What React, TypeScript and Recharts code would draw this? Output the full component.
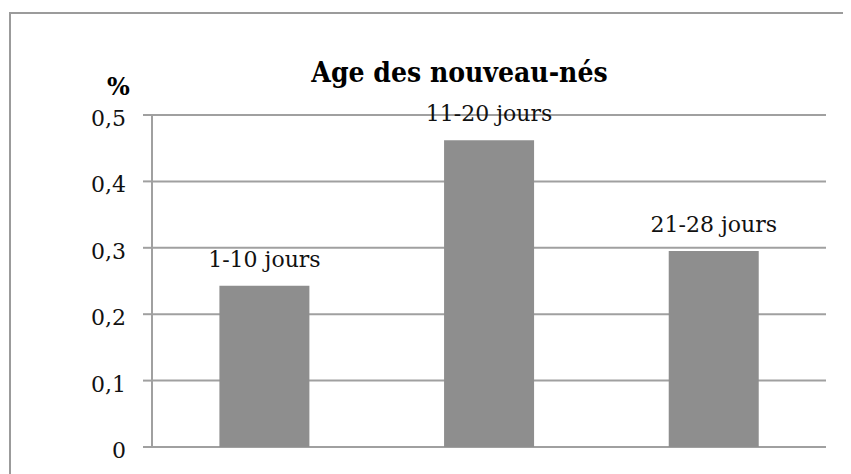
import React from "react";
import { BarChart, Bar, XAxis, YAxis, CartesianGrid, LabelList } from "recharts";

const categories = ["1-10 jours", "11-20 jours", "21-28 jours"];
const values = [0.243, 0.462, 0.295];
const yTicks = [0, 0.1, 0.2, 0.3, 0.4, 0.5];
const title = "Age des nouveau-nés";
const unitLabel = "%";

const data = categories.map((c, i) => ({ name: c, value: values[i] }));

const SERIF = "'DejaVu Serif', serif";
const GRAY = "#a0a0a0";

const fmt = (v: number) => String(v).replace(".", ",");

const Tick = (props: any) => {
  const { x, y, payload } = props;
  return (
    <text x={x} y={y + 11} textAnchor="end" fontFamily={SERIF} fontSize={22} fill="#111">
      {fmt(payload.value)}
    </text>
  );
};

const BarLabel = (props: any) => {
  const { x, y, width, index } = props;
  return (
    <text x={x + width / 2} y={y - 19} textAnchor="middle" fontFamily={SERIF} fontSize={22} fill="#111">
      {categories[index]}
    </text>
  );
};

export default function App() {
  return (
    <div style={{ position: "relative", width: 843, height: 466, overflow: "hidden" }}>
      <div
        style={{
          position: "absolute",
          left: 1,
          top: 4,
          width: 1000,
          height: 1000,
          borderTop: "2px solid #9b9b9b",
          borderLeft: "2px solid #9b9b9b",
        }}
      />
      <div style={{ position: "absolute", left: 0, top: 0 }}>
        <BarChart
          width={843}
          height={466}
          data={data}
          margin={{ top: 107, right: 25, bottom: 27, left: 0 }}
          barCategoryGap="30%"
        >
          <CartesianGrid horizontal vertical={false} stroke={GRAY} strokeWidth={2} />
          <XAxis dataKey="name" hide />
          <YAxis
            width={144}
            domain={[0, 0.5]}
            ticks={yTicks}
            interval={0}
            axisLine={{ stroke: GRAY, strokeWidth: 2 }}
            tickLine={{ stroke: GRAY, strokeWidth: 2 }}
            tickSize={9}
            tickMargin={17}
            tick={<Tick />}
          />
          <Bar dataKey="value" fill="#8e8e8e" isAnimationActive={false}>
            <LabelList dataKey="value" content={<BarLabel />} />
          </Bar>
        </BarChart>
      </div>
      <svg
        width={843}
        height={466}
        style={{ position: "absolute", left: 0, top: 0, pointerEvents: "none" }}
      >
        <text
          x={451.5}
          y={74.3}
          textAnchor="middle"
          fontFamily="'DejaVu Serif Condensed', 'DejaVu Serif', serif"
          fontStretch="condensed"
          fontWeight="bold"
          fontSize={28}
          fill="#000"
        >
          {title}
        </text>
        <text
          x={110.5}
          y={87}
          textAnchor="middle"
          fontFamily={SERIF}
          fontWeight="bold"
          fontSize={24}
          fill="#000"
        >
          {unitLabel}
        </text>
      </svg>
    </div>
  );
}
